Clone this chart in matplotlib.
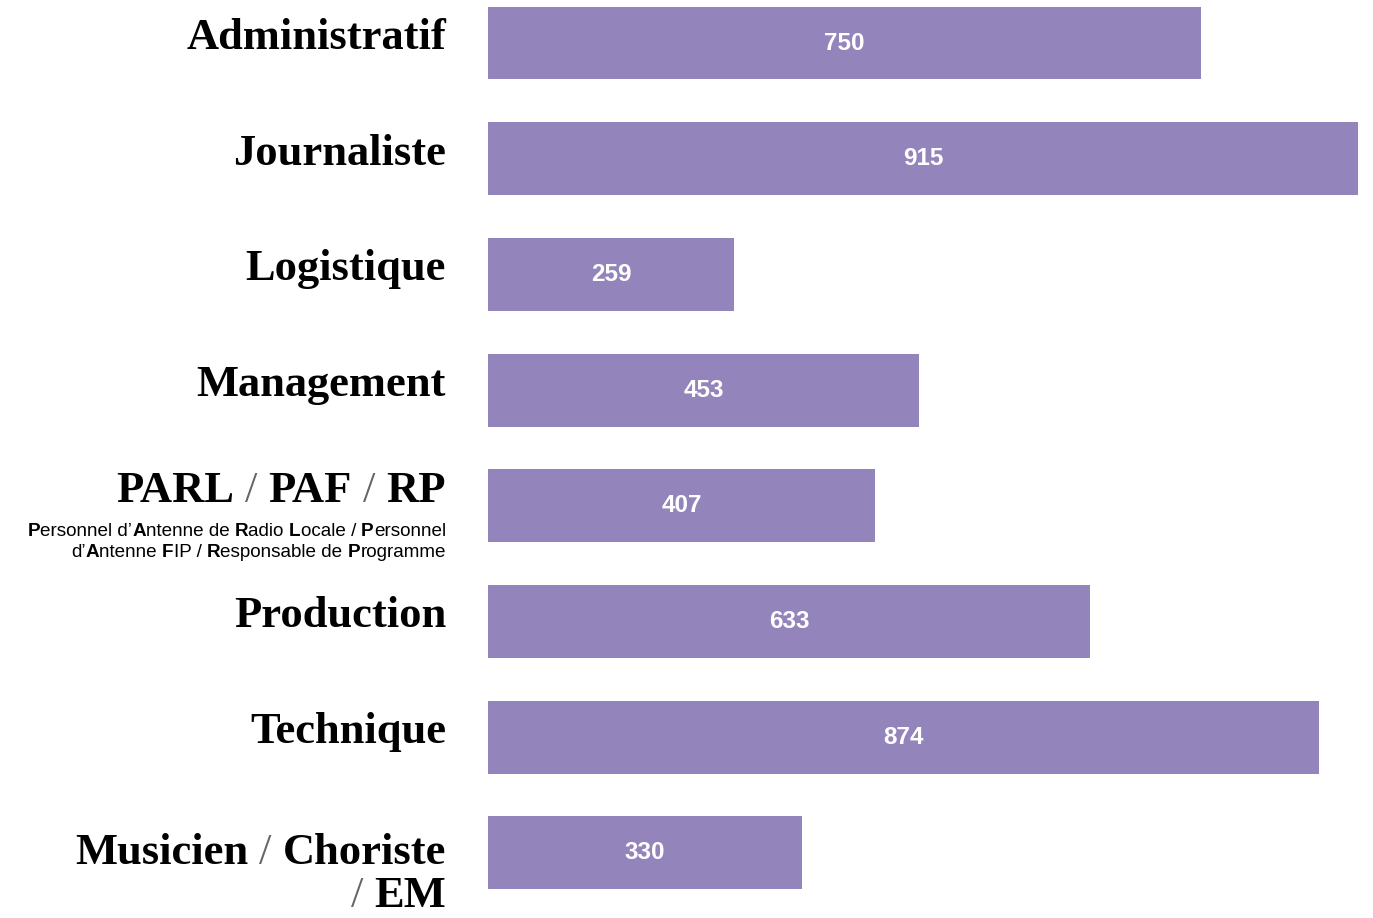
import re
import matplotlib
matplotlib.use("Agg")
import matplotlib.pyplot as plt
from matplotlib.transforms import ScaledTranslation
from matplotlib.font_manager import FontProperties

categories = ["Administratif", "Journaliste", "Logistique", "Management",
              "PARL / PAF / RP", "Production", "Technique",
              "Musicien / Choriste\n/ EM"]
values = [750, 915, 259, 453, 407, 633, 874, 330]
# **x** marks the bold initials of the acronym
subtitle = ("**P**ersonnel d’**A**ntenne de **R**adio **L**ocale / **P**ersonnel\n"
            "d’**A**ntenne **F**IP / **R**esponsable de **P**rogramme")
subtitle_of = "PARL / PAF / RP"

bar_color = "#9484bc"
DPI = 100

fig = plt.figure(figsize=(13.73, 9.18), dpi=DPI)
ax = fig.add_axes([488 / 1373, 0, 872 / 1373, 1])
ax.barh(range(len(values)), values, height=0.63, color=bar_color)
ax.set_xlim(0, 917)
ax.set_ylim(7.563, -0.372)
ax.axis("off")

for i, v in enumerate(values):
    ax.text(v / 2, i, str(v), ha="center", va="center", color="white",
            fontsize=17.5, fontweight="bold", family="Liberation Sans")

renderer = fig.canvas.get_renderer()


def run_width(s, prop):
    if not s:
        return 0
    w1 = renderer.get_text_width_height_descent("|" + s + "|", prop, ismath=False)[0]
    w0 = renderer.get_text_width_height_descent("||", prop, ismath=False)[0]
    return w1 - w0


def rich_line(y, dy_px, runs, right_px=42):
    # runs: (text, FontProperties, color), right-aligned left of the bars, baseline at y + dy_px
    widths = [run_width(t, p) for t, p, c in runs]
    x = -right_px - sum(widths)
    for (t, p, c), w in zip(runs, widths):
        stripped = t.lstrip(" ")
        lead = run_width(t[:len(t) - len(stripped)], p)
        tr = ax.get_yaxis_transform() + ScaledTranslation((x + lead) / DPI, -dy_px / DPI,
                                                          fig.dpi_scale_trans)
        ax.text(0, y, stripped, transform=tr, ha="left", va="baseline",
                fontproperties=p, color=c)
        x += w


serif_b = FontProperties(family="Liberation Serif", weight="bold", size=32)
serif_n = FontProperties(family="Liberation Serif", weight="normal", size=32)
sans_b = FontProperties(family="Liberation Sans", weight="bold", size=13.6)
sans_n = FontProperties(family="Liberation Sans", weight="normal", size=13.6)

first_dy = {"PARL / PAF / RP": -4, "Musicien / Choriste\n/ EM": 11}

for i, label in enumerate(categories):
    dy = first_dy.get(label, 6)
    for line in label.split("\n"):
        runs = []
        for part in re.split(r"(\s*/\s*)", line):
            if not part:
                continue
            if "/" in part:
                runs.append((part, serif_n, "#666666"))
            else:
                runs.append((part, serif_b, "black"))
        rich_line(i, dy, runs)
        dy += 43
    if label == subtitle_of:
        dy = 30
        for line in subtitle.split("\n"):
            runs = []
            for k, part in enumerate(line.split("**")):
                if part:
                    runs.append((part, sans_b if k % 2 else sans_n, "black"))
            rich_line(i, dy, runs)
            dy += 21

fig.savefig("out.png", dpi=DPI, facecolor="white")
